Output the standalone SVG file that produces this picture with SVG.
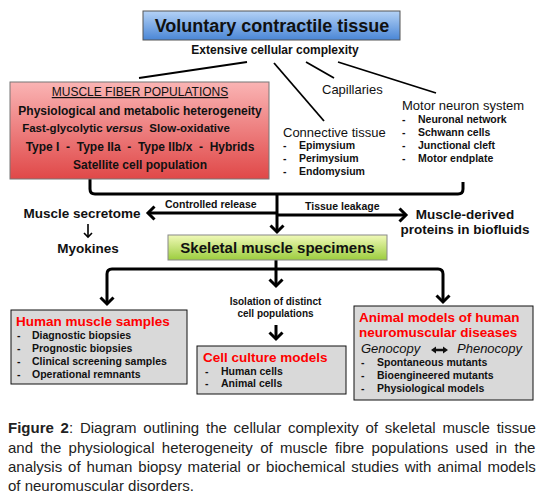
<svg xmlns="http://www.w3.org/2000/svg" width="543" height="495" viewBox="0 0 543 495">
<defs>
<linearGradient id="gBlue" x1="0" y1="0" x2="0" y2="1"><stop offset="0" stop-color="#b4d2f6"/><stop offset="1" stop-color="#4a86d6"/></linearGradient>
<linearGradient id="gRed" x1="0" y1="0" x2="0" y2="1"><stop offset="0" stop-color="#fab4b4"/><stop offset="1" stop-color="#e04848"/></linearGradient>
<linearGradient id="gGreen" x1="0" y1="0" x2="0" y2="1"><stop offset="0" stop-color="#f0f9b8"/><stop offset="1" stop-color="#9ccd3e"/></linearGradient>
<marker id="arr" markerUnits="userSpaceOnUse" viewBox="-10 -10 14 20" refX="0" refY="0" markerWidth="14" markerHeight="20" orient="auto" overflow="visible"><path d="M-6.5,-6.5 L0,0 L-6.5,6.5" fill="none" stroke="#000" stroke-width="3"/></marker>
<marker id="arrS" markerUnits="userSpaceOnUse" viewBox="-6 -6 8 12" refX="0" refY="0" markerWidth="8" markerHeight="12" orient="auto" overflow="visible"><path d="M-4,-4 L0,0 L-4,4" fill="none" stroke="#000" stroke-width="1.6"/></marker>
<style>
text{font-family:"Liberation Sans",Arial,sans-serif;fill:#111}
.b{font-weight:bold}
.c{text-anchor:middle}
.li{font-size:10.5px;font-weight:bold}
.lab{font-size:13px}
.big{font-size:13.5px;font-weight:bold}
.red{fill:#ff0000;font-size:13.5px;font-weight:bold}
.gray{fill:#d9d9d9;stroke:#111;stroke-width:1}
.thick{fill:none;stroke:#000;stroke-width:3}
.thin{fill:none;stroke:#000;stroke-width:1.8}
.cap{font-size:15px;fill:#222}
</style>
</defs>
<g id="connectors">
<path class="thin" d="M247,62 L139,78"/>
<path class="thin" d="M274,63 L324,121"/>
<path class="thin" d="M306,62 L334,78"/>
<path class="thin" d="M338,62 L436,93"/>
<path class="thick" d="M90,179 V189 Q90,194 95,194 H458 Q463,194 463,189 V182"/>
<path class="thick" d="M277,194 V232" marker-end="url(#arr)"/>
<path class="thick" d="M277,213 H148" marker-end="url(#arr)"/>
<path class="thick" d="M277,215 H406" marker-end="url(#arr)"/>
<path fill="none" stroke="#000" stroke-width="1.6" d="M88,224 V237" marker-end="url(#arrS)"/>
<path class="thick" d="M276,260 V286" marker-end="url(#arr)"/>
<path class="thick" d="M276,269 H112 Q107,269 107,274 V304" marker-end="url(#arr)"/>
<path class="thick" d="M276,269 H438 Q443,269 443,274 V302" marker-end="url(#arr)"/>
<path class="thick" d="M276,325 V339" marker-end="url(#arr)"/>
</g>
<g id="title">
<rect x="143" y="11" width="257" height="29" fill="url(#gBlue)" stroke="#555" stroke-width="1"/>
<text class="b c" x="272" y="32" font-size="18">Voluntary contractile tissue</text>
</g>
<g id="complexity">
<text class="b c" x="275" y="54" font-size="12">Extensive cellular complexity</text>
</g>
<g id="fiber">
<rect x="10" y="82" width="259" height="97" fill="url(#gRed)" stroke="#777" stroke-width="1"/>
<text class="c" x="140" y="96" font-size="12" text-decoration="underline">MUSCLE FIBER POPULATIONS</text>
<text class="b c" x="140" y="115" font-size="12">Physiological and metabolic heterogeneity</text>
<text class="b c" x="126" y="132" font-size="11.5" xml:space="preserve">Fast-glycolytic <tspan font-style="italic">versus</tspan>  Slow-oxidative</text>
<text class="b c" x="140" y="151" font-size="12" xml:space="preserve">Type I  -  Type IIa  -  Type IIb/x  -  Hybrids</text>
<text class="b c" x="140" y="169" font-size="12">Satellite cell population</text>
</g>
<g id="capillaries">
<text class="lab" x="322" y="94">Capillaries</text>
</g>
<g id="connective">
<text class="lab" x="283" y="137">Connective tissue</text>
<text class="li" x="283" y="149">-</text><text class="li" x="299" y="149">Epimysium</text>
<text class="li" x="283" y="162">-</text><text class="li" x="299" y="162">Perimysium</text>
<text class="li" x="283" y="175">-</text><text class="li" x="299" y="175">Endomysium</text>
</g>
<g id="motor">
<text class="lab" x="402" y="110">Motor neuron system</text>
<text class="li" x="402" y="123">-</text><text class="li" x="418" y="123">Neuronal network</text>
<text class="li" x="402" y="136">-</text><text class="li" x="418" y="136">Schwann cells</text>
<text class="li" x="402" y="149">-</text><text class="li" x="418" y="149">Junctional cleft</text>
<text class="li" x="402" y="162">-</text><text class="li" x="418" y="162">Motor endplate</text>
</g>
<g id="release-labels">
<text class="li" x="165" y="208">Controlled release</text>
<text class="li" x="305" y="210">Tissue leakage</text>
</g>
<g id="secretome">
<text class="big c" x="82" y="218">Muscle secretome</text>
</g>
<g id="myokines">
<text class="big c" x="88" y="253">Myokines</text>
</g>
<g id="biofluids">
<text class="big c" x="465" y="219">Muscle-derived</text>
<text class="big c" x="465" y="234">proteins in biofluids</text>
</g>
<g id="specimens">
<rect x="168" y="235" width="219" height="25" fill="url(#gGreen)" stroke="#888" stroke-width="1"/>
<text class="b c" x="277.5" y="253" font-size="15">Skeletal muscle specimens</text>
</g>
<g id="isolation">
<text class="b c" x="275.5" y="305" font-size="10">Isolation of distinct</text>
<text class="b c" x="275.5" y="317" font-size="10">cell populations</text>
</g>
<g id="human">
<rect class="gray" x="11" y="310" width="176" height="74"/>
<text class="red" x="16" y="326">Human muscle samples</text>
<text class="li" x="17" y="339">-</text><text class="li" x="32" y="339">Diagnostic biopsies</text>
<text class="li" x="17" y="352">-</text><text class="li" x="32" y="352">Prognostic biopsies</text>
<text class="li" x="17" y="365">-</text><text class="li" x="32" y="365">Clinical screening samples</text>
<text class="li" x="17" y="378">-</text><text class="li" x="32" y="378">Operational remnants</text>
</g>
<g id="cellculture">
<rect class="gray" x="197" y="346" width="149" height="48"/>
<text class="red" x="203" y="362">Cell culture models</text>
<text class="li" x="205" y="375">-</text><text class="li" x="221" y="375">Human cells</text>
<text class="li" x="205" y="387">-</text><text class="li" x="221" y="387">Animal cells</text>
</g>
<g id="animal">
<rect class="gray" x="354" y="306" width="179" height="94"/>
<text class="red" x="359" y="322">Animal models of human</text>
<text class="red" x="359" y="337">neuromuscular diseases</text>
<text x="361" y="353" font-size="13" font-style="italic">Genocopy</text>
<path d="M431,350 L436,346.5 L436,348.8 L443,348.8 L443,346.5 L448,350 L443,353.5 L443,351.2 L436,351.2 L436,353.5 Z" fill="#111"/>
<text x="457" y="353" font-size="13" font-style="italic">Phenocopy</text>
<text class="li" x="361" y="366">-</text><text class="li" x="377" y="366">Spontaneous mutants</text>
<text class="li" x="361" y="379">-</text><text class="li" x="377" y="379">Bioengineered mutants</text>
<text class="li" x="361" y="392">-</text><text class="li" x="377" y="392">Physiological models</text>
</g>
<g id="caption">
<text class="cap" x="8" y="433" word-spacing="2.6"><tspan font-weight="bold">Figure 2</tspan>: Diagram outlining the cellular complexity of skeletal muscle tissue</text>
<text class="cap" x="8" y="452.5" word-spacing="3.2">and the physiological heterogeneity of muscle fibre populations used in the</text>
<text class="cap" x="8" y="471.5" word-spacing="1.75">analysis of human biopsy material or biochemical studies with animal models</text>
<text class="cap" x="8" y="491">of neuromuscular disorders.</text>
</g>
</svg>
